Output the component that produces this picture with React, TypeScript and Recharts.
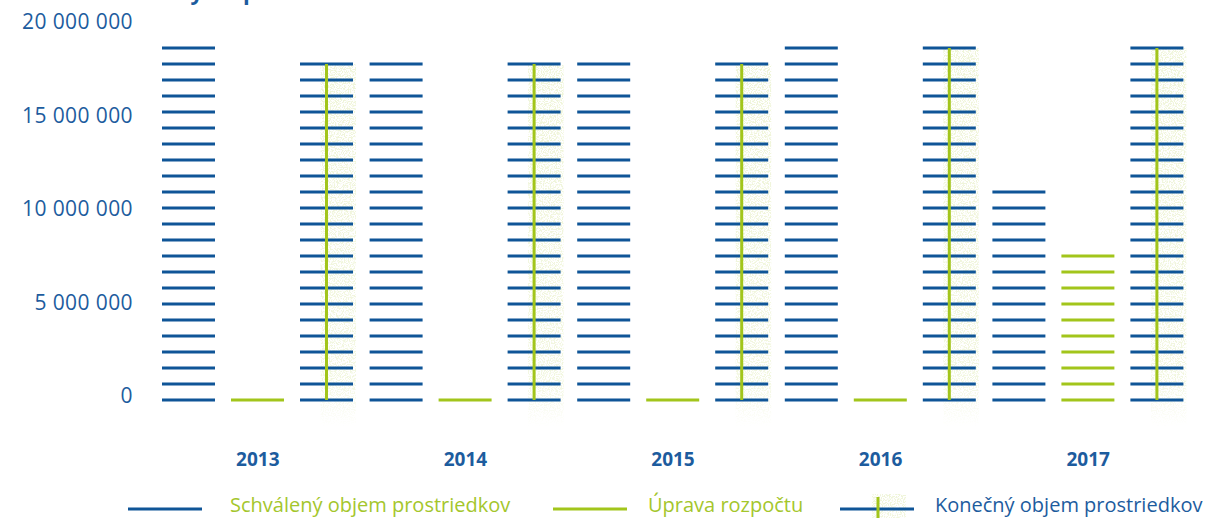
import React from 'react';
import { BarChart, Bar, XAxis, YAxis } from 'recharts';

const years = ['2013', '2014', '2015', '2016', '2017'];
const approved = [18850000, 18000000, 18000000, 18850000, 11200000];
const adjustment = [0, 0, 0, 0, 7750000];
const finalVolume = [18000000, 18000000, 18000000, 18850000, 18950000];
const yTicks = [0, 5000000, 10000000, 15000000, 20000000];

const BLUE = '#0f5597';
const BLUE_TEXT = '#1d5c9e';
const GREEN = '#a2c51b';
const GREEN_TEXT = '#a4c62c';
const FONT = "'Open Sans', sans-serif";
const STEP = 16;

const data = years.map((year, i) => ({
  year,
  approved: approved[i],
  adjustment: adjustment[i],
  final: finalVolume[i],
}));

const fmt = (v: number) => String(v).replace(/\B(?=(\d{3})+(?!\d))/g, ' ');

// bars are drawn as stacks of horizontal strokes, 16px apart, from the baseline up
const stackLines = (x: number, y: number, width: number, height: number, color: string) => {
  const base = y + height;
  const out: React.ReactElement[] = [];
  for (let k = 0; k * STEP <= height + 0.5; k++) {
    const ly = base - k * STEP;
    out.push(<line key={k} x1={x} x2={x + width} y1={ly} y2={ly} stroke={color} strokeWidth={3} />);
  }
  return out;
};

const LinesShape = (color: string) => (props: any) => {
  const { x, y, width, height } = props;
  return <g>{stackLines(x, y, width, height || 0, color)}</g>;
};

const FinalShape = (props: any) => {
  const { x, y, width, height } = props;
  const cx = x + width / 2;
  const top = y + height - Math.floor((height + 0.5) / STEP) * STEP;
  return (
    <g>
      <rect x={cx - 6} y={top} width={width / 2 + 9} height={y + height - top + 26} fill="url(#texFade)" filter="url(#speckle)" />
      {stackLines(x, y, width, height, BLUE)}
      <line x1={cx} x2={cx} y1={top} y2={y + height} stroke={GREEN} strokeWidth={3} />
    </g>
  );
};

const YTick = (props: any) => {
  const { x, y, payload } = props;
  return (
    <text x={x} y={y - 4} dy="0.355em" textAnchor="end" fill={BLUE_TEXT} fontSize={21} letterSpacing={0.4} fontFamily={FONT}>
      {fmt(payload.value)}
    </text>
  );
};

const XTick = (props: any) => {
  const { x, y, payload } = props;
  return (
    <text x={x} y={y} dy="0.71em" textAnchor="middle" fill={BLUE_TEXT} fontSize={19} fontWeight={700} fontFamily={FONT}>
      {payload.value}
    </text>
  );
};

const SpeckleDefs = ({ suffix }: { suffix: string }) => (
  <defs>
    <linearGradient id={`texFade${suffix}`} x1="0" y1="0" x2="0" y2="1">
      <stop offset="0%" stopColor="#d3e196" stopOpacity={0.75} />
      <stop offset="88%" stopColor="#d3e196" stopOpacity={0.6} />
      <stop offset="100%" stopColor="#d3e196" stopOpacity={0} />
    </linearGradient>
    <filter id={`speckle${suffix}`} x="0" y="0" width="100%" height="100%">
      <feTurbulence type="fractalNoise" baseFrequency="0.85" numOctaves={2} seed={3} result="noise" />
      <feColorMatrix in="noise" type="matrix" values="0 0 0 0 0.82  0 0 0 0 0.88  0 0 0 0 0.6  0 0 0 7 -3.2" result="dots" />
      <feComposite in="dots" in2="SourceGraphic" operator="in" />
    </filter>
  </defs>
);

const Overlay = () => (
  <svg width={1218} height={518} style={{ position: 'absolute', left: 0, top: 0, pointerEvents: 'none' }}>
    <SpeckleDefs suffix="L" />
    <text x={117} y={0} fill={BLUE_TEXT} fontSize={22} fontWeight={700} fontFamily={FONT}>Celkový rozpočet</text>

    <line x1={128} x2={202} y1={509} y2={509} stroke={BLUE} strokeWidth={3} />
    <text x={230} y={512} fill={GREEN_TEXT} fontSize={20} fontFamily={FONT}>Schválený objem prostriedkov</text>

    <line x1={553} x2={627} y1={509} y2={509} stroke={GREEN} strokeWidth={3} />
    <text x={648} y={512} fill={GREEN_TEXT} fontSize={20} fontFamily={FONT}>Úprava rozpočtu</text>

    <rect x={872} y={494} width={34} height={30} fill="url(#texFadeL)" filter="url(#speckleL)" />
    <line x1={840} x2={914} y1={509} y2={509} stroke={BLUE} strokeWidth={3} />
    <line x1={878} x2={878} y1={497} y2={518} stroke={GREEN} strokeWidth={3} />
    <text x={935} y={512} fill={BLUE_TEXT} fontSize={20} fontFamily={FONT}>Konečný objem prostriedkov</text>
  </svg>
);

export default function App() {
  return (
    <div style={{ position: 'absolute', left: 0, top: 0, width: 1218, height: 518, background: '#fff', fontFamily: FONT }}>
      <BarChart
        width={1218}
        height={518}
        data={data}
        margin={{ top: 26, right: 26, left: 0, bottom: 58 }}
        barSize={53}
        barGap={16}
      >
        <SpeckleDefs suffix="" />
        <XAxis dataKey="year" axisLine={false} tickLine={false} tickSize={0} tickMargin={53} height={60} tick={<XTick />} />
        <YAxis
          domain={[0, 20000000]}
          ticks={yTicks}
          axisLine={false}
          tickLine={false}
          tickSize={0}
          tickMargin={21}
          width={154}
          tick={<YTick />}
        />
        <Bar dataKey="approved" name="Schválený objem prostriedkov" fill={BLUE} shape={LinesShape(BLUE)} isAnimationActive={false} />
        <Bar dataKey="adjustment" name="Úprava rozpočtu" fill={GREEN} shape={LinesShape(GREEN)} isAnimationActive={false} />
        <Bar dataKey="final" name="Konečný objem prostriedkov" fill={BLUE} shape={FinalShape} isAnimationActive={false} />
      </BarChart>
      <Overlay />
    </div>
  );
}
